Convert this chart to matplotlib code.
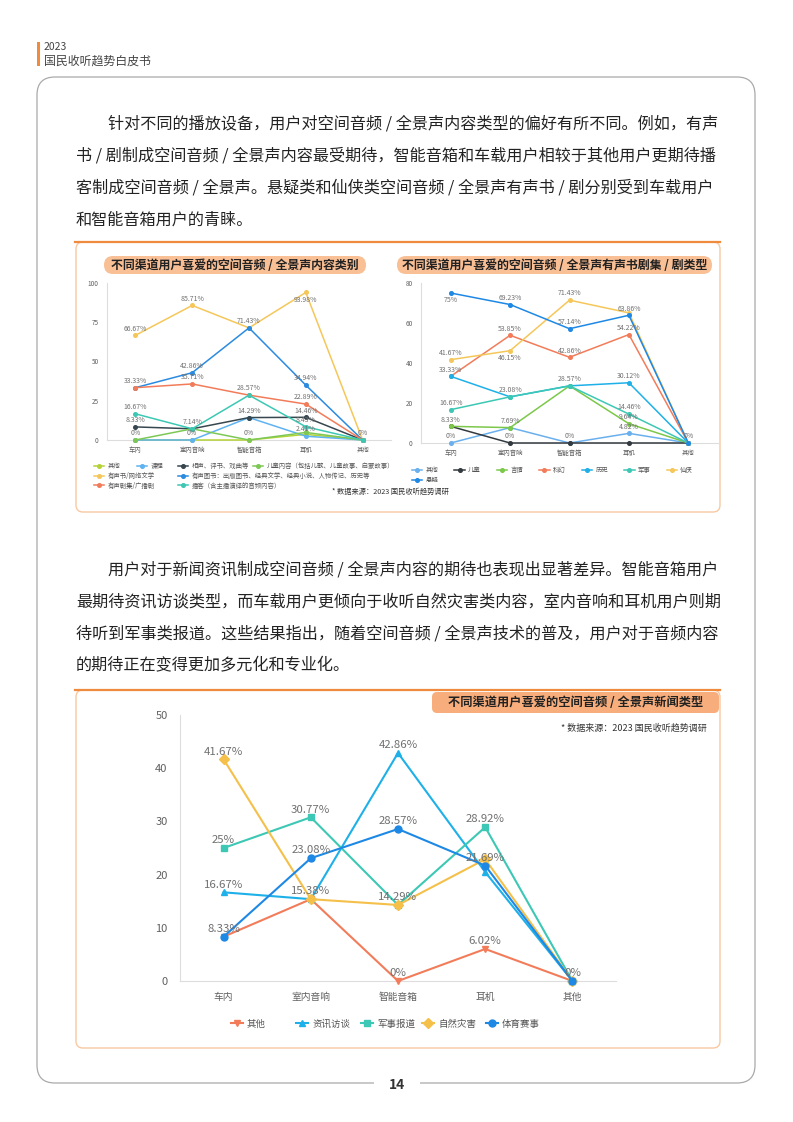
import matplotlib.pyplot as plt
from matplotlib.patches import FancyBboxPatch, Rectangle

plt.rcParams['font.family'] = ['Noto Sans CJK SC', 'DejaVu Sans']

W, H = 793, 1122

categories = ['车内', '室内音响', '智能音箱', '耳机', '其他']

# chart 1: content types
content_names = ['其他', '课程', '相声、评书、戏曲等', '儿童内容（包括儿歌、儿童故事、启蒙故事）',
                 '有声书/网络文学', '有声图书：出版图书、经典文学、经典小说、人物传记、历史等',
                 '有声剧集/广播剧', '播客（含主播演绎的音频内容）']
content_values = [
    [0, 0, 0, 3.61, 0],
    [0, 0, 14.29, 2.41, 0],
    [8.33, 7.14, 14.29, 14.46, 0],
    [0, 7.14, 0, 4.82, 0],
    [66.67, 85.71, 71.43, 93.98, 0],
    [33.33, 42.86, 71.43, 34.94, 0],
    [33.33, 35.71, 28.57, 22.89, 0],
    [16.67, 7.14, 28.57, 8.43, 0],
]
content_labeled = [[4], [0, 1, 3], [0, 1, 2, 3], [2], [0, 1, 2, 3], [0, 1, 3], [1, 2, 3], [0, 3]]
content_colors = ['#b5d337', '#5eb3f0', '#37474f', '#7dc855', '#f5c75a', '#2b8be0', '#f27c5a', '#3cc8b4']

# chart 2: audio drama genres
drama_names = ['其他', '儿童', '言情', '科幻', '历史', '军事', '仙侠', '悬疑']
drama_values = [
    [0, 7.69, 0, 4.82, 0],
    [8.33, 0, 0, 0, 0],
    [8.33, 7.69, 28.57, 9.64, 0],
    [33.33, 53.85, 42.86, 54.22, 0],
    [33.33, 23.08, 28.57, 30.12, 0],
    [16.67, 23.08, 28.57, 14.46, 0],
    [41.67, 46.15, 71.43, 65.06, 0],
    [75, 69.23, 57.14, 63.86, 0],
]
drama_labeled = [[0, 1, 2, 3, 4], [1], [0, 3], [0, 1, 2, 3], [1, 3], [0, 2, 3], [0, 1, 2], [0, 1, 2, 3]]
drama_colors = ['#6ab0ee', '#333a40', '#7cc84a', '#f27c5a', '#1eb0e8', '#3cc8b4', '#f5c75a', '#1e88e5']

# chart 3: news types
news_names = ['其他', '资讯访谈', '军事报道', '自然灾害', '体育赛事']
news_values = [
    [8.33, 15.38, 0, 6.02, 0],
    [16.67, 15.38, 42.86, 20.48, 0],
    [25, 30.77, 14.29, 28.92, 0],
    [41.67, 15.38, 14.29, 22.89, 0],
    [8.33, 23.08, 28.57, 21.69, 0],
]
news_labeled = [[0, 2, 3, 4], [0, 2], [0, 1, 2, 3], [0, 1], [1, 2, 3]]
news_colors = ['#f27c5a', '#1eb0e8', '#3cc8b4', '#f5c04a', '#1e88e5']
news_markers = ['v', '^', 's', 'D', 'o']

para1 = ['针对不同的播放设备，用户对空间音频 / 全景声内容类型的偏好有所不同。例如，有声',
         '书 / 剧制成空间音频 / 全景声内容最受期待，智能音箱和车载用户相较于其他用户更期待播',
         '客制成空间音频 / 全景声。悬疑类和仙侠类空间音频 / 全景声有声书 / 剧分别受到车载用户',
         '和智能音箱用户的青睐。']
para2 = ['用户对于新闻资讯制成空间音频 / 全景声内容的期待也表现出显著差异。智能音箱用户',
         '最期待资讯访谈类型，而车载用户更倾向于收听自然灾害类内容，室内音响和耳机用户则期',
         '待听到军事类报道。这些结果指出，随着空间音频 / 全景声技术的普及，用户对于音频内容',
         '的期待正在变得更加多元化和专业化。']

ORANGE = '#f08a3c'

fig = plt.figure(figsize=(W / 100, H / 100), dpi=100)
bg = fig.add_axes([0, 0, 1, 1])
bg.set_xlim(0, W)
bg.set_ylim(H, 0)
bg.axis('off')


def axes_px(x0, y0, x1, y1):
    ax = fig.add_axes([x0 / W, 1 - y1 / H, (x1 - x0) / W, (y1 - y0) / H])
    ax.patch.set_alpha(0)
    return ax


def draw_chart(ax, names, values, colors, labeled, ymax, ystep, markers, ms, lw,
               tick_fs, cat_fs, label_fs, below=()):
    x = list(range(len(categories)))
    for i, vals in enumerate(values):
        ax.plot(x, vals, color=colors[i], marker=markers[i], ms=ms, lw=lw,
                label=names[i], clip_on=False, zorder=3)
        for j in labeled[i]:
            if (i, j) in below:
                ax.annotate(f'{vals[j]:g}%', (j, vals[j]), xytext=(0, -2.5),
                            textcoords='offset points', ha='center', va='top',
                            fontsize=label_fs, color='#707070', zorder=4)
            else:
                ax.annotate(f'{vals[j]:g}%', (j, vals[j]), xytext=(0, 2),
                            textcoords='offset points', ha='center', va='bottom',
                            fontsize=label_fs, color='#707070', zorder=4)
    ax.set_xlim(-0.5, len(categories) - 0.5)
    ax.set_ylim(0, ymax)
    ax.set_yticks(range(0, ymax + 1, ystep))
    ax.set_xticks(x, categories)
    ax.tick_params(length=0, colors='#606060')
    ax.tick_params(axis='y', labelsize=tick_fs, pad=6)
    ax.tick_params(axis='x', labelsize=cat_fs, pad=4)
    for s in ['top', 'right']:
        ax.spines[s].set_visible(False)
    for s in ['left', 'bottom']:
        ax.spines[s].set_color('#dddddd')
        ax.spines[s].set_linewidth(0.8)


# header
bg.add_patch(Rectangle((37, 42), 2.5, 24, color=ORANGE, lw=0))
bg.text(44, 47, '2023', fontsize=7.5, color='#444444', va='center')
bg.text(44, 61, '国民收听趋势白皮书', fontsize=8.6, color='#444444', va='center')

# page frame
bg.add_patch(FancyBboxPatch((37, 77), 718, 1006, boxstyle='round,pad=0,rounding_size=18',
                            fc='none', ec='#aaaaaa', lw=0.9))
bg.add_patch(Rectangle((374, 1078), 46, 12, color='white', lw=0, zorder=2))
bg.text(397, 1085, '14', fontsize=10, color='#333333', ha='center', va='center',
        fontweight='bold', zorder=3)

# paragraphs
for k, line in enumerate(para1):
    bg.text(108 if k == 0 else 76, 124 + 32 * k, line, fontsize=11.6, color='#222222', va='center')
for k, line in enumerate(para2):
    bg.text(108 if k == 0 else 76, 570 + 32 * k, line, fontsize=11.6, color='#222222', va='center')

# chart boxes
for y0, y1 in [(242, 512), (690, 1048)]:
    bg.add_patch(FancyBboxPatch((76, y0), 644, y1 - y0, boxstyle='round,pad=0,rounding_size=7',
                                fc='white', ec='#f7c9a3', lw=1))
    bg.plot([75, 720], [y0, y0], color=ORANGE, lw=1.6)

# titles
bg.add_patch(FancyBboxPatch((104, 256), 262, 18, boxstyle='round,pad=0,rounding_size=9',
                            fc='#f9bf95', ec='none'))
bg.text(235, 265, '不同渠道用户喜爱的空间音频 / 全景声内容类别', fontsize=8.6,
        fontweight='bold', color='#222222', ha='center', va='center')
bg.add_patch(FancyBboxPatch((397, 256), 315, 18, boxstyle='round,pad=0,rounding_size=9',
                            fc='#f9bf95', ec='none'))
bg.text(554.5, 265, '不同渠道用户喜爱的空间音频 / 全景声有声书剧集 / 剧类型', fontsize=8.6,
        fontweight='bold', color='#222222', ha='center', va='center')
bg.add_patch(FancyBboxPatch((432, 692), 287, 21, boxstyle='round,pad=0,rounding_size=5',
                            fc='#f8ae7c', ec='none'))
bg.text(576, 702.5, '不同渠道用户喜爱的空间音频 / 全景声新闻类型', fontsize=8.8,
        fontweight='bold', color='#222222', ha='center', va='center')

bg.text(332, 492, '* 数据来源：2023 国民收听趋势调研', fontsize=5.2, color='#333333', va='center')
bg.text(707, 728, '* 数据来源：2023 国民收听趋势调研', fontsize=6.5, color='#333333',
        va='center', ha='right')

# chart 1
ax1 = axes_px(107, 283, 391, 440)
draw_chart(ax1, content_names, content_values, content_colors, content_labeled, 100, 25,
           ['o'] * 8, 2.6, 1.1, 4.6, 4.6, 5, below={(4, 3)})
lines1 = ax1.get_lines()
legend_kw = dict(frameon=False, fontsize=4.6, handlelength=1.6, handletextpad=0.5,
                 labelspacing=0.28, borderpad=0, borderaxespad=0, labelcolor='#555555',
                 loc='upper left')
for idx, xl in [([0, 4, 6], 94), ([1], 137), ([2, 5, 7], 178), ([3], 253)]:
    fig.legend([lines1[i] for i in idx], [content_names[i] for i in idx],
               bbox_to_anchor=(xl / W, 1 - 462 / H), **legend_kw)

# chart 2
ax2 = axes_px(421, 283, 718, 443)
draw_chart(ax2, drama_names, drama_values, drama_colors, drama_labeled, 80, 20,
           ['o'] * 8, 2.6, 1.1, 4.6, 4.6, 5, below={(7, 0), (6, 1)})
lines2 = ax2.get_lines()
order2 = [0, 7, 1, 2, 3, 4, 5, 6]
fig.legend([lines2[i] for i in order2], [drama_names[i] for i in order2], ncol=7,
           columnspacing=2.55, bbox_to_anchor=(412 / W, 1 - 466 / H), **legend_kw)

# chart 3
ax3 = axes_px(180, 715, 616, 981)
draw_chart(ax3, news_names, news_values, news_colors, news_labeled, 50, 10,
           news_markers, 5, 1.5, 8, 7, 8.2)
ax3.tick_params(axis='y', pad=9)
ax3.tick_params(axis='x', pad=8)
lines3 = ax3.get_lines()
for k, xl in enumerate([231, 296, 361, 422, 486]):
    fig.legend([lines3[k]], [news_names[k]], frameon=False, fontsize=6.8,
               handlelength=1.3, handletextpad=0.4, borderpad=0, borderaxespad=0,
               labelcolor='#555555', loc='center left', bbox_to_anchor=(xl / W, 1 - 1024 / H))

fig.savefig('out.png', dpi=100)
